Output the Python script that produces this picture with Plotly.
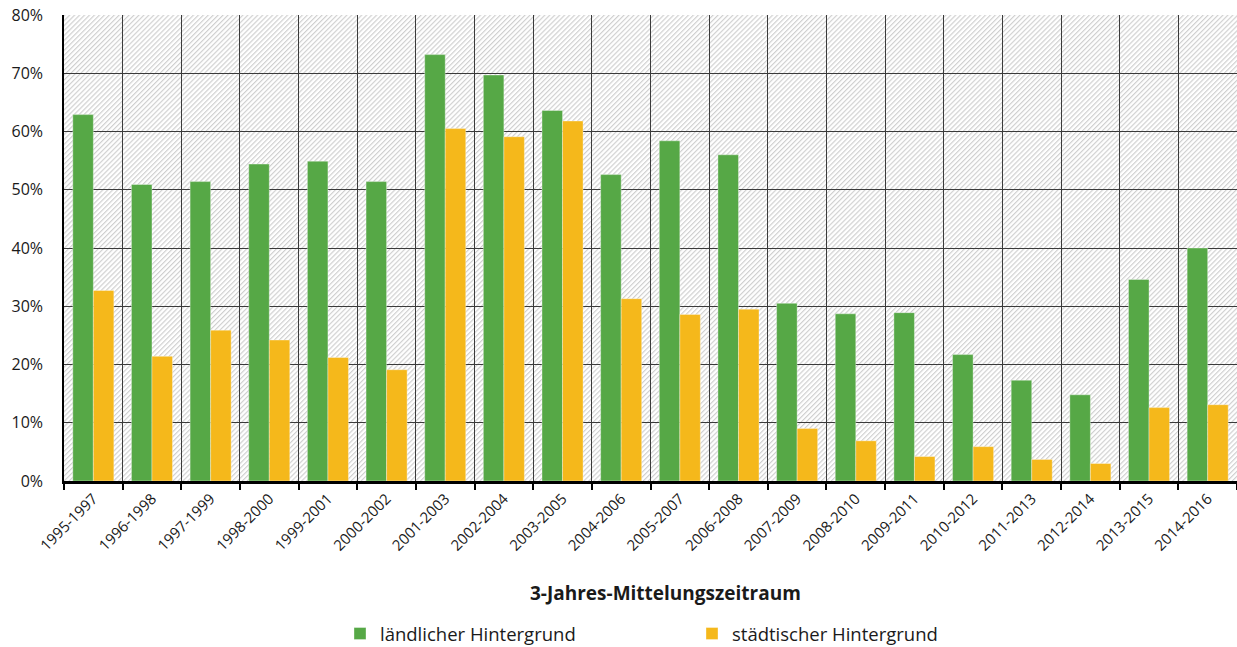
import base64
import plotly.graph_objects as go

# 3-year averaging periods
periods = [
    "1995-1997", "1996-1998", "1997-1999", "1998-2000", "1999-2001",
    "2000-2002", "2001-2003", "2002-2004", "2003-2005", "2004-2006",
    "2005-2007", "2006-2008", "2007-2009", "2008-2010", "2009-2011",
    "2010-2012", "2011-2013", "2012-2014", "2013-2015", "2014-2016",
]

# share in percent, rural background stations
rural = [62.9, 50.9, 51.4, 54.4, 54.9, 51.4, 73.2, 69.7, 63.6, 52.6,
         58.4, 56.0, 30.5, 28.7, 28.9, 21.7, 17.3, 14.8, 34.6, 40.0]

# share in percent, urban background stations
urban = [32.7, 21.4, 25.9, 24.2, 21.2, 19.1, 60.5, 59.1, 61.8, 31.3,
         28.6, 29.5, 9.0, 6.9, 4.2, 5.9, 3.7, 3.0, 12.6, 13.1]

y_ticks = [0, 10, 20, 30, 40, 50, 60, 70, 80]
y_labels = [f"{v}%" for v in y_ticks]

W, H = 1237, 647
M_L, M_R, M_T, M_B = 64, 0, 15, 166
PW, PH = W - M_L - M_R, H - M_T - M_B

GREEN = "#56a846"
ORANGE = "#f5b81b"
TEXT = "#1a1a1a"
FONT = "Open Sans"

# diagonal hatch texture for the plotting area
hatch_svg = f"""<svg xmlns='http://www.w3.org/2000/svg' width='{PW}' height='{PH}' viewBox='0 0 {PW} {PH}' preserveAspectRatio='none'>
<defs><pattern id='h' width='3.5' height='3.5' patternUnits='userSpaceOnUse' patternTransform='rotate(45)'>
<rect width='3.5' height='3.5' fill='#ffffff'/>
<line x1='0.6' y1='0' x2='0.6' y2='3.5' stroke='#cdcdcd' stroke-width='1.1'/>
</pattern></defs>
<rect width='{PW}' height='{PH}' fill='url(#h)'/>
</svg>"""
hatch_uri = "data:image/svg+xml;base64," + base64.b64encode(hatch_svg.encode()).decode()

fig = go.Figure()
fig.add_trace(go.Bar(
    x=periods, y=rural, name="ländlicher Hintergrund",
    marker=dict(color=GREEN, line=dict(color="rgba(255,255,255,0.35)", width=1)),
))
fig.add_trace(go.Bar(
    x=periods, y=urban, name="städtischer Hintergrund",
    marker=dict(color=ORANGE, line=dict(color="rgba(255,255,255,0.35)", width=1)),
))

fig.add_layout_image(dict(
    source=hatch_uri, xref="paper", yref="paper", x=0, y=1,
    sizex=1, sizey=1, sizing="stretch", xanchor="left", yanchor="top",
    layer="below",
))

fig.add_annotation(
    text="<b>3-Jahres-Mittelungszeitraum</b>",
    xref="paper", yref="paper", x=(665 - M_L) / PW, y=(481 - 593) / PH,
    xanchor="center", yanchor="middle", showarrow=False,
    font=dict(family=FONT, size=19, color=TEXT),
)

fig.update_layout(
    width=W, height=H,
    margin=dict(l=M_L, r=M_R, t=M_T, b=M_B),
    paper_bgcolor="white", plot_bgcolor="rgba(0,0,0,0)",
    barmode="group", bargap=0.3, bargroupgap=0,
    font=dict(family=FONT, color=TEXT),
    showlegend=True,
    legend=dict(
        orientation="h", xref="container", yref="container",
        x=340 / W, y=1 - 634 / H, xanchor="left", yanchor="middle",
        font=dict(family=FONT, size=18.5, color=TEXT),
        entrywidth=307, bgcolor="rgba(0,0,0,0)",
    ),
)

fig.update_xaxes(
    type="category", tickson="boundaries",
    showgrid=True, gridcolor="#3a3a3a", gridwidth=1,
    showline=True, linecolor="#000000", linewidth=3,
    ticks="outside", ticklen=6, tickwidth=2, tickcolor="#000000",
    tickangle=-45, tickfont=dict(family=FONT, size=15, color=TEXT),
)
fig.update_yaxes(
    range=[0, 80], tickvals=y_ticks, ticktext=y_labels,
    showgrid=True, gridcolor="#3a3a3a", gridwidth=1,
    zeroline=False, showline=True, linecolor="#000000", linewidth=1.5,
    ticks="", ticklabelstandoff=16,
    tickfont=dict(family=FONT, size=16, color=TEXT),
)

fig.write_html("out.html")
